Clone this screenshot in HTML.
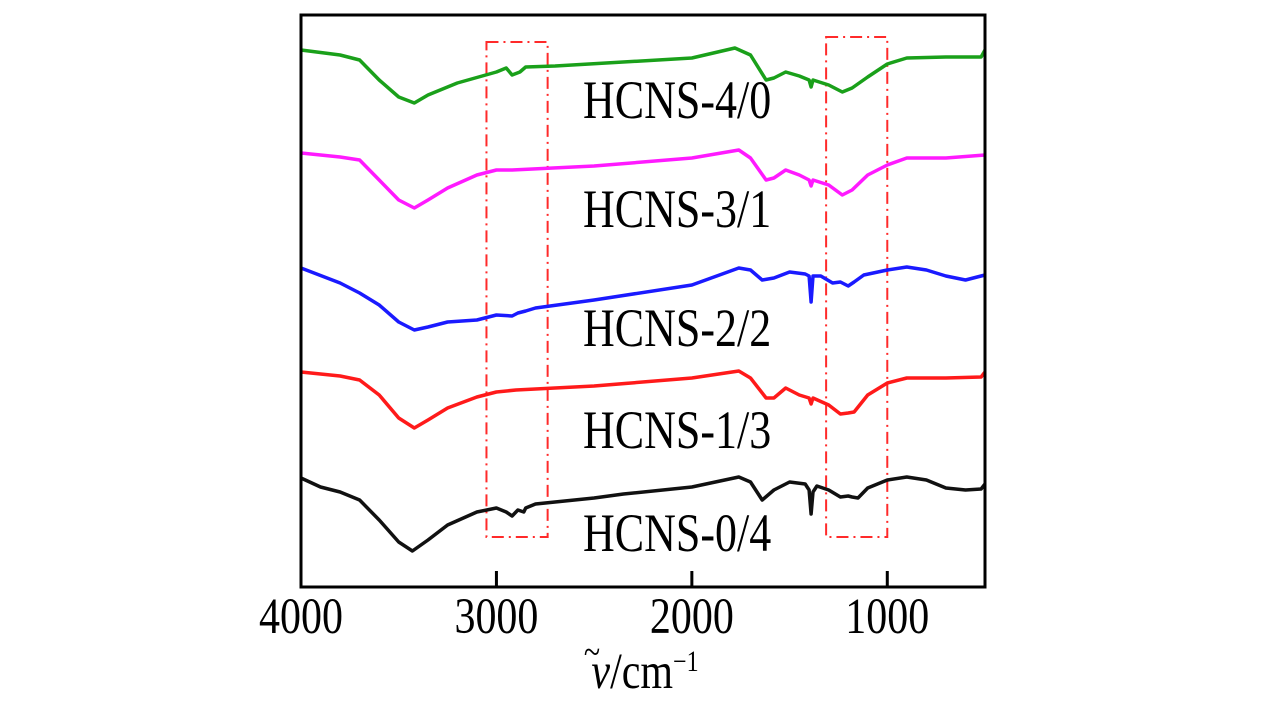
<!DOCTYPE html>
<html><head><meta charset="utf-8"><style>
html,body{margin:0;padding:0;background:#fff;}
svg{display:block;font-family:"Liberation Serif",serif;}
</style></head><body>
<svg id="chart" width="1283" height="709"></svg>
<script>
const wn = {
 black:[4000,3900,3800,3700,3600,3500,3430,3350,3250,3100,3000,2950,2920,2890,2860,2850,2800,2500,2350,2000,1760,1700,1640,1580,1500,1420,1400,1390,1380,1360,1300,1240,1200,1180,1150,1100,1000,900,800,700,600,520,500],
 red:[4000,3800,3700,3600,3500,3420,3350,3250,3100,3000,2900,2500,2000,1760,1700,1620,1580,1520,1450,1400,1390,1380,1300,1240,1200,1170,1100,1000,900,700,520,500],
 blue:[4000,3800,3700,3600,3500,3420,3350,3250,3100,3000,2920,2890,2850,2800,2500,2000,1760,1700,1640,1580,1500,1420,1400,1390,1380,1340,1280,1240,1200,1170,1120,1000,900,800,700,600,500],
 magenta:[4000,3800,3700,3600,3500,3420,3350,3250,3100,3000,2920,2500,2000,1760,1700,1620,1580,1520,1450,1400,1390,1380,1300,1230,1180,1100,1000,900,700,500],
 green:[4000,3800,3700,3600,3500,3420,3350,3200,3000,2950,2920,2880,2850,2700,2000,1780,1700,1620,1580,1520,1450,1400,1390,1380,1300,1230,1180,1100,1000,900,700,520,500]
};
const blackVals=[109,100,95,87,67,45,36,47,62,75,79,75,71,77,75,79,83,89,93,100,110,105,87,97,105,103,97,73,95,101,97,90,91,90,89,99,107,110,107,99,97,98,103];
const redVals=[215,211,207,192,169,159,167,179,190,195,197,201,209,216,209,189,189,199,192,189,183,189,182,173,174,175,192,204,209,209,210,215];
const blueVals=[319,304,294,282,265,257,260,265,267,272,271,274,276,279,287,302,319,317,307,309,315,313,311,285,311,311,304,305,301,305,312,317,320,317,311,307,312];
const magentaVals=[434,430,427,407,387,379,387,399,412,417,417,421,429,437,429,407,409,417,412,407,401,407,402,392,397,412,422,429,429,432];
const greenVals=[537,532,527,507,490,484,492,504,515,519,512,515,520,521,529,539,532,507,509,515,511,507,500,507,502,495,499,510,523,529,530,530,537];
const xTicks=[4000,3000,2000,1000];
const xTickLabels=["4000","3000","2000","1000"];
const boxes=[[3051,2738,545,50],[1313,1000,550,50]];
const labels=[["HCNS-4/0",118],["HCNS-3/1",227],["HCNS-2/2",346],["HCNS-1/3",448],["HCNS-0/4",551]];

const L=301,R=985,T=15,B=587;
const x=v=>L+(4000-v)*(R-L)/3500;
const y=v=>B-v;
const svg=document.getElementById('chart');
const NS='http://www.w3.org/2000/svg';
function mk(t,a){const e=document.createElementNS(NS,t);for(const k in a)e.setAttribute(k,a[k]);svg.appendChild(e);return e;}
function stretched(tx,ty,size,anchor){return mk('text',{x:0,y:0,'font-size':size,'text-anchor':anchor,fill:'#000',transform:'translate('+tx+','+ty+') scale(1,1.22)'});}

boxes.forEach((b,i)=>{
 const r=mk('rect',{x:x(b[0]),y:y(b[2]),width:x(b[1])-x(b[0]),height:b[2]-b[3],fill:'none',stroke:'#ff2a2a','stroke-width':2,'stroke-dasharray':'12,5,2,5'});
 
 
});
const series=[['black',blackVals,'#111'],['red',redVals,'#ff1a1a'],['blue',blueVals,'#1a1aff'],['magenta',magentaVals,'#ff1aff'],['green',greenVals,'#1aa01a']];
series.forEach(s=>{
 const xs=wn[s[0]];
 const d=xs.map((w,i)=>(i?'L':'M')+x(w).toFixed(1)+','+y(s[1][i]).toFixed(1)).join(' ');
 const p=mk('path',{d:d,fill:'none',stroke:s[2],'stroke-width':3.5,'stroke-linejoin':'round'});
 
 
});
labels.forEach(l=>{
 const t=stretched(583,l[1],44,'start');t.textContent=l[0];
 
 
});
const f=mk('rect',{x:L,y:T,width:R-L,height:B-T,fill:'none',stroke:'#000','stroke-width':3});


xTicks.forEach((v,i)=>{
 if(v<4000){const tk=mk('line',{x1:x(v),x2:x(v),y1:B,y2:B-16,stroke:'#000','stroke-width':3});
 
 }
 const t=stretched(x(v),633,42,'middle');t.textContent=xTickLabels[i];
 
 
});
const tt=stretched(645,688,42,'middle');
tt.innerHTML='<tspan font-style="italic">ν</tspan>/cm<tspan dy="-14" font-size="24">−1</tspan>';


const tl=stretched(592,664,30,'middle');
tl.textContent='~';


</script>
</body></html>
